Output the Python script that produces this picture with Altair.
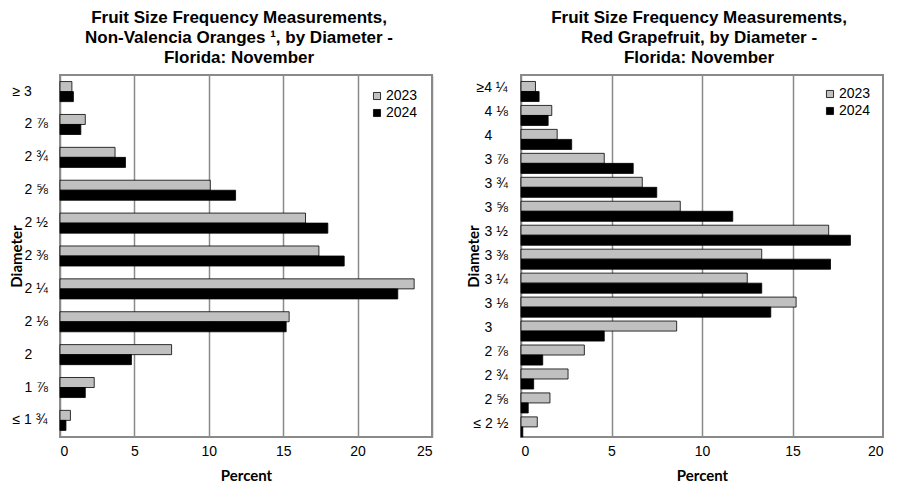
import altair as alt
import pandas as pd

# ---------------- data ----------------
left_cats = ["≥ 3", "2 ⅞", "2 ¾", "2 ⅝", "2 ½", "2 ⅜", "2 ¼", "2 ⅛", "2", "1 ⅞", "≤ 1 ¾"]
left_2023 = [0.8, 1.7, 3.7, 10.1, 16.5, 17.4, 23.8, 15.4, 7.5, 2.3, 0.7]
left_2024 = [0.9, 1.4, 4.4, 11.8, 18.0, 19.1, 22.7, 15.2, 4.8, 1.7, 0.4]

right_cats = ["≥4 ¼", "4 ⅛", "4", "3 ⅞", "3 ¾", "3 ⅝", "3 ½", "3 ⅜", "3 ¼", "3 ⅛",
              "3", "2 ⅞", "2 ¾", "2 ⅝", "≤ 2 ½"]
right_2023 = [0.8, 1.7, 2.0, 4.6, 6.7, 8.8, 17.0, 13.3, 12.5, 15.2, 8.6, 3.5, 2.6, 1.6, 0.9]
right_2024 = [1.0, 1.5, 2.8, 6.2, 7.5, 11.7, 18.2, 17.1, 13.3, 13.8, 4.6, 1.2, 0.7, 0.4, 0.1]

years = ["2023", "2024"]

left_title = ["Fruit Size Frequency Measurements,",
              "Non-Valencia Oranges ¹, by Diameter -",
              "Florida: November"]
right_title = ["Fruit Size Frequency Measurements,",
               "Red Grapefruit, by Diameter -",
               "Florida: November"]


def make_df(cats, v23, v24):
    rows = []
    for c, a, b in zip(cats, v23, v24):
        rows.append({"Diameter": c, "Year": years[0], "Percent": a})
        rows.append({"Diameter": c, "Year": years[1], "Percent": b})
    return pd.DataFrame(rows)


GRID = "#8a8a8a"


def panel(cats, v23, v24, title, xmax, width, height, pad_in, pad_out,
          label_pad, label_cond, title_x, leg_offset, title_dx):
    df = make_df(cats, v23, v24)
    return alt.Chart(df).mark_bar(stroke="black", strokeWidth=0.8).encode(
        y=alt.Y("Diameter:N", sort=cats,
                scale=alt.Scale(paddingInner=pad_in, paddingOuter=pad_out),
                axis=alt.Axis(title="Diameter", labelAlign="left",
                              labelPadding={"condition": label_cond, "value": label_pad},
                              ticks=False, tickSize=0, domain=False,
                              labelFont="Liberation Sans", labelFontSize=14,
                              labelColor="black",
                              titleFont="Lato", titleFontSize=15,
                              titleFontWeight="bold", titleColor="black",
                              titleX=title_x, titleY=height / 2,
                              titleAngle=-90)),
        yOffset=alt.YOffset("Year:N", sort=years),
        x=alt.X("Percent:Q",
                scale=alt.Scale(domain=[0, xmax], nice=False),
                axis=alt.Axis(values=list(range(0, xmax + 1, 5)), title="Percent",
                              grid=True, gridColor=GRID, gridWidth=1.5,
                              ticks=False, tickSize=0, domain=False,
                              labelPadding=7, labelFont="Liberation Sans",
                              labelFontSize=14, labelColor="black",
                              titleFont="Lato", titleFontSize=15,
                              titleFontWeight="bold", titleColor="black",
                              titlePadding=10)),
        color=alt.Color("Year:N", sort=years,
                        scale=alt.Scale(domain=years, range=["#c0c0c0", "#000000"]),
                        legend=alt.Legend(title=None, orient="top-right",
                                          offset=leg_offset,
                                          symbolType="square", symbolSize=50,
                                          symbolStrokeColor="black",
                                          symbolStrokeWidth=0.8,
                                          labelFont="Liberation Sans",
                                          labelFontSize=14, labelColor="black",
                                          labelOffset=2, rowPadding=3,
                                          padding=0)),
    ).properties(
        width=width, height=height,
        title=alt.TitleParams(text=title, font="Liberation Sans", fontSize=17,
                              fontWeight="bold", color="black", lineHeight=20,
                              anchor="middle", frame="group", offset=8, dx=title_dx),
    )


left = panel(left_cats, left_2023, left_2024, left_title, 25, 372, 362,
             0.39, 0.2, 36,
             {"test": "datum.value[0] == '≥' || datum.value[0] == '≤'", "value": 48},
             -36, 14, -7)
right = panel(right_cats, right_2023, right_2024, right_title, 20, 362, 362,
              0.43, 0.27, 37,
              [{"test": "datum.value[0] == '≤'", "value": 48},
               {"test": "datum.value[0] == '≥'", "value": 45}],
              -40, 12, -3)

chart = alt.hconcat(left, right, spacing=32).resolve_legend(
    color="independent"
).resolve_scale(color="independent").configure(
    padding=0, background="white"
).configure_view(stroke=GRID, strokeWidth=2)

chart.save("out.html", embed_options={"renderer": "svg", "actions": False})
